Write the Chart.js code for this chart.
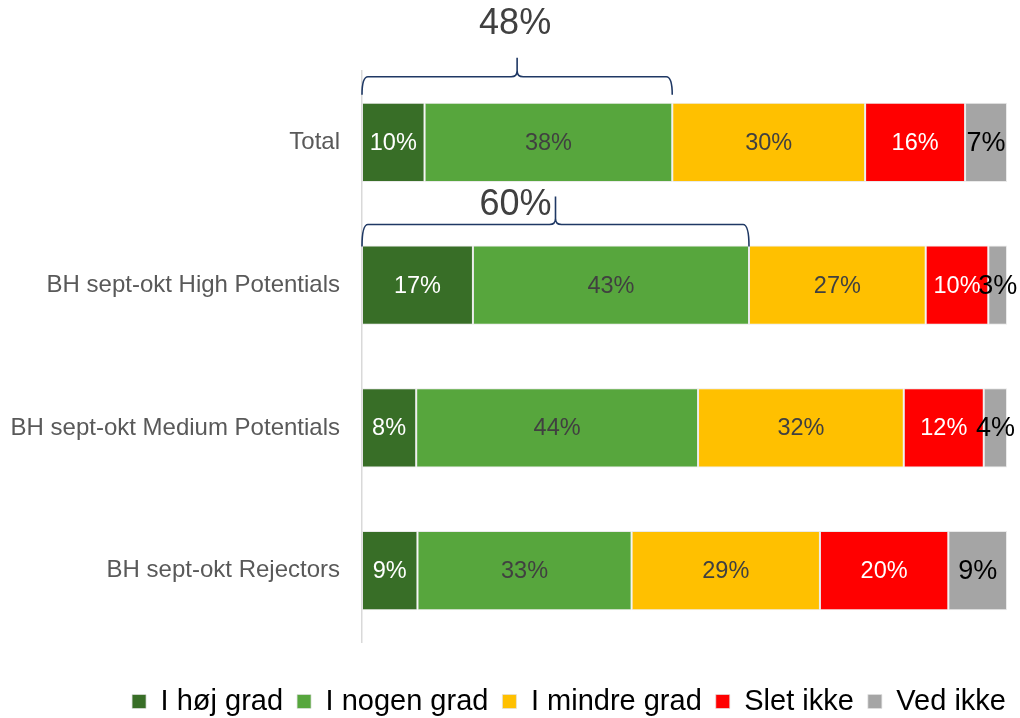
<!DOCTYPE html>
<html>
<head>
<meta charset="utf-8">
<script src="https://cdn.jsdelivr.net/npm/chart.js@4.4.1/dist/chart.umd.min.js"></script>
<style>
  body { margin: 0; background: #fff; }
  #wrap { width: 1020px; height: 718px; }
</style>
</head>
<body>
<div id="wrap"><canvas id="chart"></canvas></div>
<script>
const categories = ['Total', 'BH sept-okt High Potentials', 'BH sept-okt Medium Potentials', 'BH sept-okt Rejectors'];
const seriesNames = ['I høj grad', 'I nogen grad', 'I mindre grad', 'Slet ikke', 'Ved ikke'];

const hojGrad = [9.7, 17.2, 8.4, 8.6];
const nogenGrad = [38.4, 42.8, 43.7, 33.2];
const mindreGrad = [29.9, 27.4, 31.9, 29.2];
const sletIkke = [15.5, 9.7, 12.4, 19.9];
const vedIkke = [6.5, 2.9, 3.6, 9.1];

// rows that get a "top 2" brace (I høj grad + I nogen grad)
const braceRows = [0, 1];

const seriesValues = [hojGrad, nogenGrad, mindreGrad, sletIkke, vedIkke];
const seriesColors = ['#386E27', '#57A63D', '#FFC000', '#FF0000', '#A5A5A5'];
const labelColors = ['#ffffff', '#404040', '#404040', '#ffffff', '#000000'];
const labelSizes = [23.5, 23.5, 23.5, 23.5, 27];

// brace shape per row, offsets from the bar top
const braceShapes = [
    { end: -8, line: -26, tip: -45, textY: -79, textDx: -2 },
    { end: 1, line: -21, tip: -49, textY: -40, textDx: -40 }
];

const fontFamily = '"Liberation Sans", Arial, sans-serif';

const datasets = seriesNames.map((name, i) => ({
    label: name,
    data: seriesValues[i],
    backgroundColor: seriesColors[i],
    borderColor: 'rgba(225, 225, 225, 0.7)',
    borderWidth: 1,
    borderSkipped: false,
    barPercentage: 0.556,
    categoryPercentage: 1
}));

const segmentLabels = {
    id: 'segmentLabels',
    afterDatasetsDraw(chart) {
        const ctx = chart.ctx;
        ctx.save();
        ctx.textAlign = 'center';
        ctx.textBaseline = 'middle';
        chart.data.datasets.forEach((ds, i) => {
            const meta = chart.getDatasetMeta(i);
            ctx.fillStyle = labelColors[i];
            ctx.font = labelSizes[i] + 'px ' + fontFamily;
            meta.data.forEach((bar, j) => {
                const x = (bar.x + bar.base) / 2;
                ctx.fillText(Math.round(ds.data[j]) + '%', x, bar.y + 1);
            });
        });
        ctx.restore();
    }
};

const braces = {
    id: 'braces',
    afterDraw(chart) {
        const ctx = chart.ctx;
        const xScale = chart.scales.x;
        ctx.save();
        braceRows.forEach((row, k) => {
            const shape = braceShapes[k];
            const top2 = hojGrad[row] + nogenGrad[row];
            const bar = chart.getDatasetMeta(0).data[row];
            const barTop = bar.y - bar.height / 2;
            const x0 = xScale.getPixelForValue(0);
            const x1 = xScale.getPixelForValue(top2);
            const xm = (x0 + x1) / 2;
            const yEnd = barTop + shape.end;
            const yLine = barTop + shape.line;
            const yTip = barTop + shape.tip;
            const r = 6;

            ctx.beginPath();
            ctx.moveTo(x0, yEnd);
            ctx.quadraticCurveTo(x0, yLine, x0 + r, yLine);
            ctx.lineTo(xm - r, yLine);
            ctx.quadraticCurveTo(xm, yLine, xm, yLine - r);
            ctx.lineTo(xm, yTip);
            ctx.moveTo(xm, yLine - r);
            ctx.quadraticCurveTo(xm, yLine, xm + r, yLine);
            ctx.lineTo(x1 - r, yLine);
            ctx.quadraticCurveTo(x1, yLine, x1, yEnd);
            ctx.strokeStyle = '#1F3864';
            ctx.lineWidth = 1.6;
            ctx.stroke();

            ctx.fillStyle = '#404040';
            ctx.font = '36px ' + fontFamily;
            ctx.textAlign = 'center';
            ctx.textBaseline = 'middle';
            ctx.fillText(Math.round(top2) + '%', xm + shape.textDx, barTop + shape.textY);
        });
        ctx.restore();
    }
};

// pull the legend a little lower by trimming its reserved height
const legendNudge = {
    id: 'legendNudge',
    beforeInit(chart) {
        const legend = chart.legend;
        if (!legend) return;
        const fit = legend.fit;
        legend.fit = function () {
            fit.call(this);
            this.height -= 8;
        };
    }
};

new Chart(document.getElementById('chart'), {
    type: 'bar',
    data: {
        labels: categories,
        datasets: datasets
    },
    options: {
        indexAxis: 'y',
        responsive: true,
        maintainAspectRatio: false,
        animation: false,
        layout: {
            padding: { top: 71, right: 0, left: 0, bottom: 0 }
        },
        scales: {
            x: {
                stacked: true,
                min: 0,
                max: 100,
                grid: { display: false },
                border: { display: false },
                ticks: { display: false },
                afterFit: scale => { scale.height = 31; }
            },
            y: {
                stacked: true,
                grid: { display: false },
                border: { display: true, color: '#D9D9D9', width: 1.5 },
                ticks: {
                    color: '#595959',
                    padding: 14,
                    font: { family: fontFamily, size: 24 }
                },
                afterFit: scale => { scale.width = 362; }
            },
            yRight: {
                type: 'category',
                position: 'right',
                grid: { display: false },
                border: { display: false },
                ticks: { display: false },
                afterFit: scale => { scale.width = 13; }
            }
        },
        plugins: {
            legend: {
                position: 'bottom',
                align: 'end',
                labels: {
                    boxWidth: 14,
                    boxHeight: 14,
                    padding: 14,
                    color: '#000000',
                    font: { family: fontFamily, size: 29 }
                }
            },
            tooltip: { enabled: false }
        }
    },
    plugins: [segmentLabels, braces, legendNudge]
});
</script>
</body>
</html>
